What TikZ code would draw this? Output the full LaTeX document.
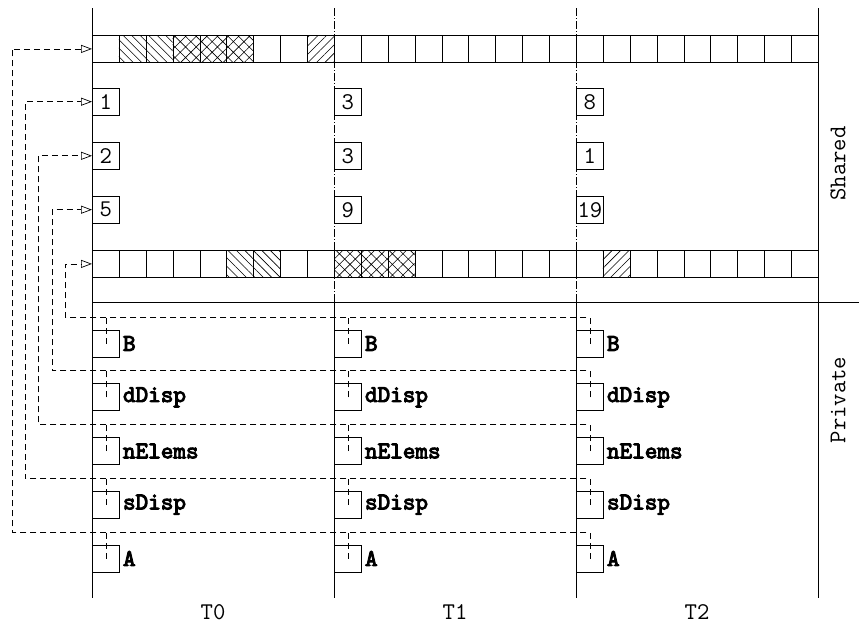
\documentclass[tikz,border=0pt]{standalone}
\usepackage{fontspec}
\newfontfamily\boldtt{lmmono10-regular.otf}[FakeBold=4]
\usetikzlibrary{patterns.meta,arrows.meta}
\begin{document}
\begin{tikzpicture}[x=1pt,y=-1pt,
  every node/.style={font=\fontsize{24}{28}\selectfont\ttfamily},
  cell/.style={draw, line width=0.8pt, minimum width=26.89pt, minimum height=27pt, inner sep=0pt, anchor=north west},
  val/.style={draw, line width=0.8pt, minimum size=27pt, inner sep=0pt, anchor=west},
  pbox/.style={draw, line width=0.8pt, minimum size=27pt, inner sep=0pt, anchor=west},
  lbl/.style={anchor=west, font=\fontsize{24}{28}\selectfont\boldtt, inner sep=3pt},
  ptr/.style={dash pattern=on 6pt off 4pt, line width=0.7pt},
  tip/.style={-{Triangle[open,length=11pt,width=8pt]}},
  nw/.style={pattern={Lines[angle=-45,distance=6pt,line width=0.6pt]}},
  ne/.style={pattern={Lines[angle=45,distance=6pt,line width=0.6pt]}},
  xh/.style={pattern={Hatch[angle=45,distance=7.5pt,line width=0.6pt]}},
  frame/.style={line width=0.8pt},
  dashdot/.style={line width=0.7pt, dash pattern=on 8pt off 2pt on 1pt off 2pt},
]
\useasboundingbox (0,0) rectangle (859,625);

% frame lines
\draw[frame] (92,8) -- (92,598);
\draw[frame] (818,8) -- (818,598);
\draw[frame] (92,302.5) -- (859,302.5);
\draw[dashdot] (334,8) -- (334,302.5);
\draw[dashdot] (576,8) -- (576,302.5);
\draw[frame] (334,302.5) -- (334,598);
\draw[frame] (576,302.5) -- (576,598);

% hatching of array cells
\foreach \i/\p in {1/nw,2/nw,3/xh,4/xh,5/xh,8/ne}
  \path[\p] ({92+26.889*\i},35) rectangle ++(26.889,27);
\foreach \i/\p in {5/nw,6/nw,9/xh,10/xh,11/xh,19/ne}
  \path[\p] ({92+26.889*\i},250) rectangle ++(26.889,27);

% array cells
\foreach \i in {0,...,26} {
  \node[cell] (top\i) at ({92+26.889*\i},35) {};
  \node[cell] (bot\i) at ({92+26.889*\i},250) {};
}

% shared values
\node[val] (s01) at (92,101.7) {1};
\node[val] (s02) at (92,155.8) {2};
\node[val] (s03) at (92,209.7) {5};
\node[val] (s11) at (334,101.7) {3};
\node[val] (s12) at (334,155.8) {3};
\node[val] (s13) at (334,209.7) {9};
\node[val] (s21) at (576,101.7) {8};
\node[val] (s22) at (576,155.8) {1};
\node[val] (s23) at (576,209.7) {19};

% private boxes
\foreach \c/\x in {0/92,1/334,2/576} {
  \node[pbox] (p\c B) at (\x,343.5) {};
  \node[lbl] (l\c B) at (p\c B.east) {B};
  \node[pbox] (p\c D) at (\x,397.3) {};
  \node[lbl] (l\c D) at (p\c D.east) {dDisp};
  \node[pbox] (p\c N) at (\x,451) {};
  \node[lbl] (l\c N) at (p\c N.east) {nElems};
  \node[pbox] (p\c S) at (\x,504.7) {};
  \node[lbl] (l\c S) at (p\c S.east) {sDisp};
  \node[pbox] (p\c A) at (\x,558.5) {};
  \node[lbl] (l\c A) at (p\c A.east) {A};
}

% pointer connectors
\coordinate (vB) at (65,317);
\coordinate (vD) at (52,370.8);
\coordinate (vN) at (38.5,424.5);
\coordinate (vS) at (25,478.2);
\coordinate (vA) at (12,532);
\draw[ptr,tip] (p2B.center) |- (vB) |- (bot0.west);
\draw[ptr,tip] (p2D.center) |- (vD) |- (s03.west);
\draw[ptr,tip] (p2N.center) |- (vN) |- (s02.west);
\draw[ptr,tip] (p2S.center) |- (vS) |- (s01.west);
\draw[ptr,tip] (p2A.center) |- (vA) |- (top0.west);
\foreach \r in {B,D,N,S,A} {
  \draw[ptr] (p0\r.center) -- (p0\r.center |- v\r);
  \draw[ptr] (p1\r.center) -- (p1\r.center |- v\r);
}

% side and column labels
\node[rotate=90] (shared) at (838,163.5) {Shared};
\node[rotate=90] (private) at (838,400) {Private};
\node (t0) at (213,612) {T0};
\node (t1) at (455,612) {T1};
\node (t2) at (697,612) {T2};
\end{tikzpicture}
\end{document}
